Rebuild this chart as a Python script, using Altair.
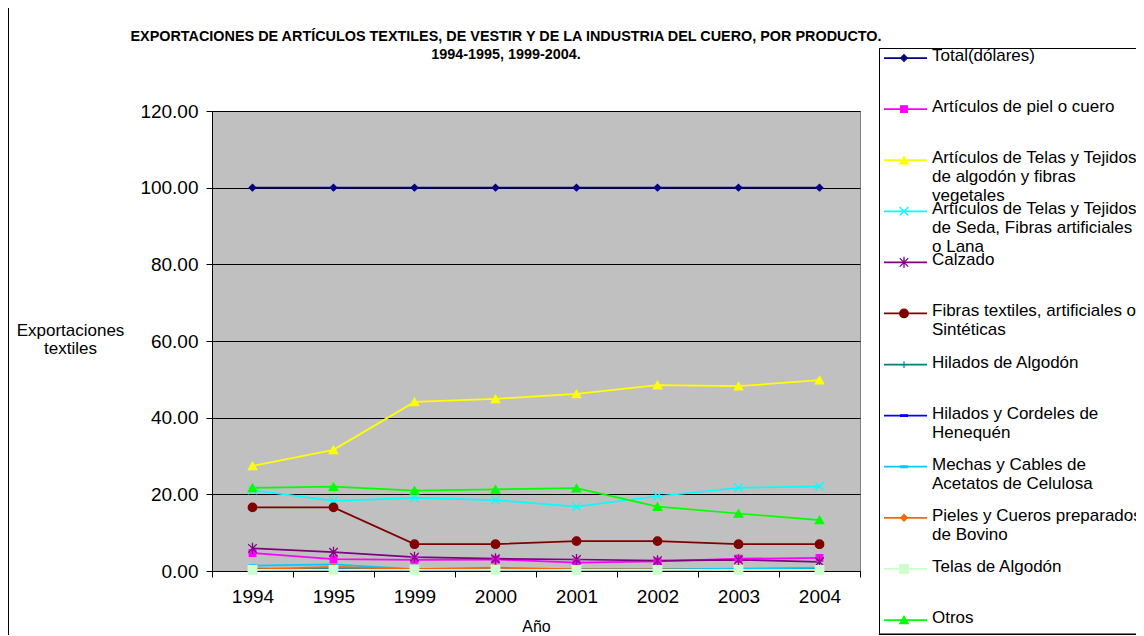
import altair as alt
import pandas as pd

years = ["1994", "1995", "1999", "2000", "2001", "2002", "2003", "2004"]

series = [
    "Total(dólares)",
    "Artículos de piel o cuero",
    "Artículos de Telas y Tejidos de algodón y fibras vegetales",
    "Artículos de Telas y Tejidos de Seda, Fibras artificiales o Lana",
    "Calzado",
    "Fibras textiles, artificiales o Sintéticas",
    "Hilados de Algodón",
    "Hilados y Cordeles de Henequén",
    "Mechas y Cables de Acetatos de Celulosa",
    "Pieles y Cueros preparados de Bovino",
    "Telas de Algodón",
    "Otros",
]

legend_labels = [
    "Total(dólares)",
    "Artículos de piel o cuero",
    "Artículos de Telas y Tejidos\nde algodón y fibras\nvegetales",
    "Artículos de Telas y Tejidos\nde Seda, Fibras artificiales\no Lana",
    "Calzado",
    "Fibras textiles, artificiales o\nSintéticas",
    "Hilados de Algodón",
    "Hilados y Cordeles de\nHenequén",
    "Mechas y Cables de\nAcetatos de Celulosa",
    "Pieles y Cueros preparados\nde Bovino",
    "Telas de Algodón",
    "Otros",
]

total = [100.0, 100.0, 100.0, 100.0, 100.0, 100.0, 100.0, 100.0]
piel = [4.7, 3.1, 2.9, 3.0, 2.2, 2.5, 3.2, 3.4]
algodon_veg = [27.4, 31.6, 44.1, 44.9, 46.2, 48.5, 48.2, 49.8]
seda = [21.1, 18.3, 19.1, 18.5, 16.8, 19.5, 21.7, 22.1]
calzado = [5.9, 4.9, 3.6, 3.2, 3.0, 2.7, 2.9, 2.4]
fibras = [16.6, 16.6, 7.0, 7.0, 7.8, 7.8, 7.0, 7.0]
hilados_alg = [0.6, 0.5, 0.5, 0.5, 0.4, 0.4, 0.5, 0.6]
cordeles = [0.3, 0.3, 0.2, 0.2, 0.2, 0.2, 0.2, 0.2]
mechas = [1.4, 1.7, 0.5, 0.4, 0.4, 0.4, 0.6, 0.9]
pieles = [0.4, 1.1, 0.5, 0.9, 0.4, 0.4, 0.2, 0.2]
telas_alg = [0.3, 0.3, 0.3, 0.3, 0.3, 0.3, 0.3, 0.3]
otros = [21.7, 22.0, 21.0, 21.3, 21.6, 16.8, 15.0, 13.3]

values = [total, piel, algodon_veg, seda, calzado, fibras, hilados_alg,
          cordeles, mechas, pieles, telas_alg, otros]

colors = ["#000080", "#FF00FF", "#FFFF00", "#00FFFF", "#800080", "#800000",
          "#008080", "#0000FF", "#00CCFF", "#FF6600", "#CCFFCC", "#00FF00"]

X_PATH = "M-1,-1L1,1M-1,1L1,-1"
STAR_PATH = "M-1,-1L1,1M-1,1L1,-1M0,-1.3L0,1.3"
PLUS_PATH = "M-1,0L1,0M0,-1L0,1"
DASH_PATH = "M-1,-0.25L1,-0.25L1,0.25L-1,0.25Z"
shapes = ["diamond", "square", "triangle-up", X_PATH, STAR_PATH, "circle",
          PLUS_PATH, DASH_PATH, DASH_PATH, "diamond", "square", "triangle-up"]

big_markers = [series[2], series[3], series[4], series[5], series[10], series[11]]

rows = []
for s, vals in zip(series, values):
    for yr, v in zip(years, vals):
        rows.append({"serie": s, "year": yr, "value": v})
df = pd.DataFrame(rows)
leg = pd.DataFrame({"serie": series, "label": legend_labels})

FONT = "Liberation Sans"

cscale = alt.Scale(domain=series, range=colors)
shscale = alt.Scale(domain=series, range=shapes)

x_enc = alt.X(
    "year:N", sort=years,
    scale=alt.Scale(type="band", paddingInner=0, paddingOuter=0),
    axis=alt.Axis(title="Año", labelAngle=0, tickBand="extent", grid=False,
                  domainColor="black", tickColor="black", tickSize=6,
                  labelFontSize=19, labelColor="black", labelPadding=10,
                  labelFont=FONT, titleFont=FONT, titleFontSize=16,
                  titleFontWeight="normal", titleColor="black",
                  titleBaseline="alphabetic", titleY=60),
)
y_enc = alt.Y(
    "value:Q",
    scale=alt.Scale(domain=[0, 120], nice=False),
    axis=alt.Axis(values=[0, 20, 40, 60, 80, 100, 120], format=".2f",
                  title=["Exportaciones", "textiles"], titleAngle=0,
                  titleAlign="center", titleBaseline="top", titleX=-142,
                  titleY=211, titleLineHeight=18, titleFont=FONT,
                  titleFontSize=17, titleFontWeight="normal", titleColor="black",
                  domainColor="black", tickColor="black", tickSize=6,
                  gridColor="black", gridWidth=1, labelFontSize=19,
                  labelFont=FONT, labelColor="black", labelPadding=8),
)

color_enc = alt.Color("serie:N", scale=cscale, legend=None)
stroke_enc = alt.Stroke("serie:N", scale=cscale, legend=None)
shape_enc = alt.Shape("serie:N", scale=shscale, legend=None)

lines = alt.Chart(df).mark_line(strokeWidth=1.75).encode(
    x=x_enc, y=y_enc, color=color_enc)

pts_small = alt.Chart(df).transform_filter(
    ~alt.FieldOneOfPredicate(field="serie", oneOf=big_markers)
).mark_point(filled=True, strokeWidth=1.2, opacity=1, size=45).encode(
    x=x_enc, y=y_enc, color=color_enc, stroke=stroke_enc, shape=shape_enc)

pts_big = alt.Chart(df).transform_filter(
    alt.FieldOneOfPredicate(field="serie", oneOf=big_markers)
).mark_point(filled=True, strokeWidth=1.3, opacity=1, size=72).encode(
    x=x_enc, y=y_enc, color=color_enc, stroke=stroke_enc, shape=shape_enc)

main = alt.layer(lines, pts_small, pts_big)

# legend drawn from the series list
ly = alt.Y("serie:N", scale=alt.Scale(type="point", domain=series, range=[-53, 509], padding=0), axis=None)

box = alt.Chart(leg).mark_rect(fill="white", stroke="black", strokeWidth=1).encode(
    x=alt.value(667.5), x2=alt.value(1000), y=alt.value(-62.5), y2=alt.value(523))

frame = alt.Chart(leg).mark_rule(color="black", strokeWidth=1).encode(
    x=alt.value(-203.5), y=alt.value(-103), y2=alt.value(524))

leg_lines = alt.Chart(leg).mark_rule(strokeWidth=1.75).encode(
    x=alt.value(672), x2=alt.value(715), y=ly, color=color_enc)

leg_small = alt.Chart(leg).transform_filter(
    ~alt.FieldOneOfPredicate(field="serie", oneOf=big_markers)
).mark_point(filled=True, strokeWidth=1.2, opacity=1, size=45).encode(
    x=alt.value(692), y=ly, color=color_enc, stroke=stroke_enc, shape=shape_enc)

leg_big = alt.Chart(leg).transform_filter(
    alt.FieldOneOfPredicate(field="serie", oneOf=big_markers)
).mark_point(filled=True, strokeWidth=1.3, opacity=1, size=72).encode(
    x=alt.value(692), y=ly, color=color_enc, stroke=stroke_enc, shape=shape_enc)

leg_text = alt.Chart(leg).mark_text(
    align="left", baseline="top", dy=-10, fontSize=17, lineHeight=19,
    lineBreak="\n", font=FONT, color="black").encode(
    x=alt.value(720), y=ly, text="label:N")

legend_layer = alt.layer(frame, box, leg_lines, leg_small, leg_big, leg_text)

chart = alt.layer(main, legend_layer).resolve_scale(y="independent").properties(
    width=648, height=460,
    autosize=alt.AutoSizeParams(type="none"),
    padding={"left": 204, "top": 103, "right": 276, "bottom": 64},
    background="white",
    title=alt.TitleParams(
        text=["EXPORTACIONES DE ARTÍCULOS TEXTILES, DE VESTIR Y DE LA INDUSTRIA DEL CUERO, POR PRODUCTO.",
              "1994-1995, 1999-2004."],
        font=FONT, fontSize=14.4, fontWeight="bold", color="black",
        anchor="middle", frame="group", dx=-30, offset=0, dy=55, lineHeight=18),
).configure_view(fill="#C0C0C0", stroke="#808080", strokeWidth=1)

chart.save("out.html", embed_options={"renderer": "svg", "actions": False})
